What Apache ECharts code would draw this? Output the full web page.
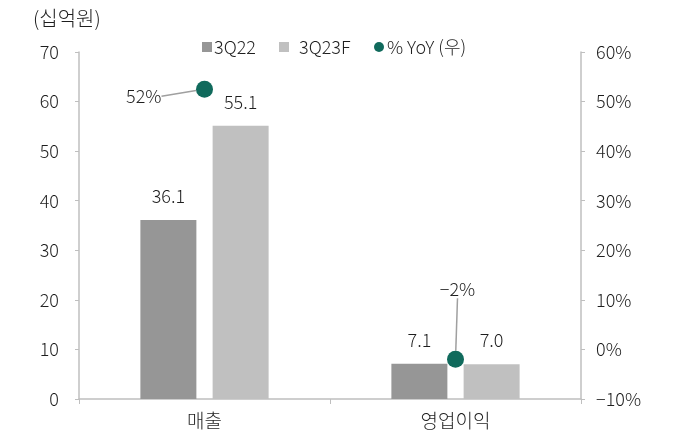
<!DOCTYPE html>
<html><head><meta charset="utf-8">
<script src="https://cdn.jsdelivr.net/npm/echarts@6/dist/echarts.min.js"></script>
<style>html,body{margin:0;padding:0;background:#fff}#c{width:676px;height:442px}</style>
</head><body><div id="c"></div>
<script>
const categories = ['매출', '영업이익'];
const s3Q22 = [36.1, 7.1];
const s3Q23F = [55.1, 7.0];
const yoy = [52.5, -2];
const yoyLabels = ['52%', '\u22122%'];
const leftTicks = {min: 0, max: 70, interval: 10};
const rightTicks = {min: -10, max: 60, interval: 10};

const FONT = "'Noto Sans CJK KR', 'Noto Sans', sans-serif";
const TXT = '#1e1e1e';
const AX = '#bfbfbf';
const FW = 300;
function leg(name, icon, left, pad) {
  return {
    left: left, top: 33, itemWidth: 10, itemHeight: 10,
    textStyle: {fontFamily: FONT, fontSize: 18, fontWeight: FW, color: TXT, padding: [0, 0, 0, pad]},
    data: [{name: name, icon: icon}]
  };
}
const chart = echarts.init(document.getElementById('c'));
chart.setOption({
  animation: false,
  textStyle: {fontFamily: FONT, color: TXT},
  title: {text: '(십억원)', left: 28, top: 3, textStyle: {fontFamily: FONT, fontSize: 20, fontWeight: FW, color: TXT}},
  legend: [
    leg('3Q22', 'rect', 197, -3),
    leg('3Q23F', 'rect', 274, 5),
    leg('% YoY (우)', 'circle', 369, -2)
  ],
  grid: {left: 79, right: 95, top: 52, bottom: 43},
  xAxis: {
    type: 'category', data: categories,
    axisLine: {lineStyle: {color: AX, width: 1.5}},
    axisTick: {show: true, length: 5, lineStyle: {color: AX}},
    axisLabel: {margin: 12, fontSize: 19, fontWeight: FW, color: TXT, fontFamily: FONT}
  },
  yAxis: [
    {type: 'value', min: leftTicks.min, max: leftTicks.max, interval: leftTicks.interval,
     splitLine: {show: false},
     axisLine: {show: true, lineStyle: {color: AX, width: 1.5}},
     axisTick: {show: true, length: 4, lineStyle: {color: AX}},
     axisLabel: {margin: 20, fontSize: 18, fontWeight: FW, color: TXT, fontFamily: FONT}},
    {type: 'value', min: rightTicks.min, max: rightTicks.max, interval: rightTicks.interval,
     splitLine: {show: false},
     axisLine: {show: true, lineStyle: {color: AX, width: 1.5}},
     axisTick: {show: true, length: 4, lineStyle: {color: AX}},
     axisLabel: {margin: 15, fontSize: 18, fontWeight: FW, color: TXT, fontFamily: FONT,
       formatter: v => (v < 0 ? '\u2212' + Math.abs(v) : v) + '%'}}
  ],
  series: [
    {name: '3Q22', type: 'bar', data: s3Q22, barWidth: 56, barGap: '29%',
     itemStyle: {color: '#969696'},
     label: {show: true, position: 'top', distance: 15, fontSize: 18, fontWeight: FW, color: TXT, fontFamily: FONT, formatter: p => p.value.toFixed(1)}},
    {name: '3Q23F', type: 'bar', data: s3Q23F, barWidth: 56,
     itemStyle: {color: '#c0c0c0'},
     label: {show: true, position: 'top', distance: 15, fontSize: 18, fontWeight: FW, color: TXT, fontFamily: FONT, formatter: p => p.value.toFixed(1)}},
    {name: '% YoY (우)', type: 'scatter', yAxisIndex: 1, data: yoy, symbolSize: 17, z: 5,
     itemStyle: {color: '#106a5c', opacity: 1},
     label: {show: true, fontSize: 18, fontWeight: FW, color: TXT, fontFamily: FONT,
       formatter: p => yoyLabels[p.dataIndex]},
     labelLine: {show: true, lineStyle: {color: '#a0a0a0', width: 1.5}},
     labelLayout: function (params) {
       const r = params.rect;
       const cx = r.x + r.width / 2, cy = r.y + r.height / 2;
       if (params.dataIndex === 0) return {x: cx - 43, y: cy + 7, align: 'right', verticalAlign: 'middle'};
       return {x: cx + 2, y: cy - 70, align: 'center', verticalAlign: 'middle'};
     }}
  ]
});
</script></body></html>
